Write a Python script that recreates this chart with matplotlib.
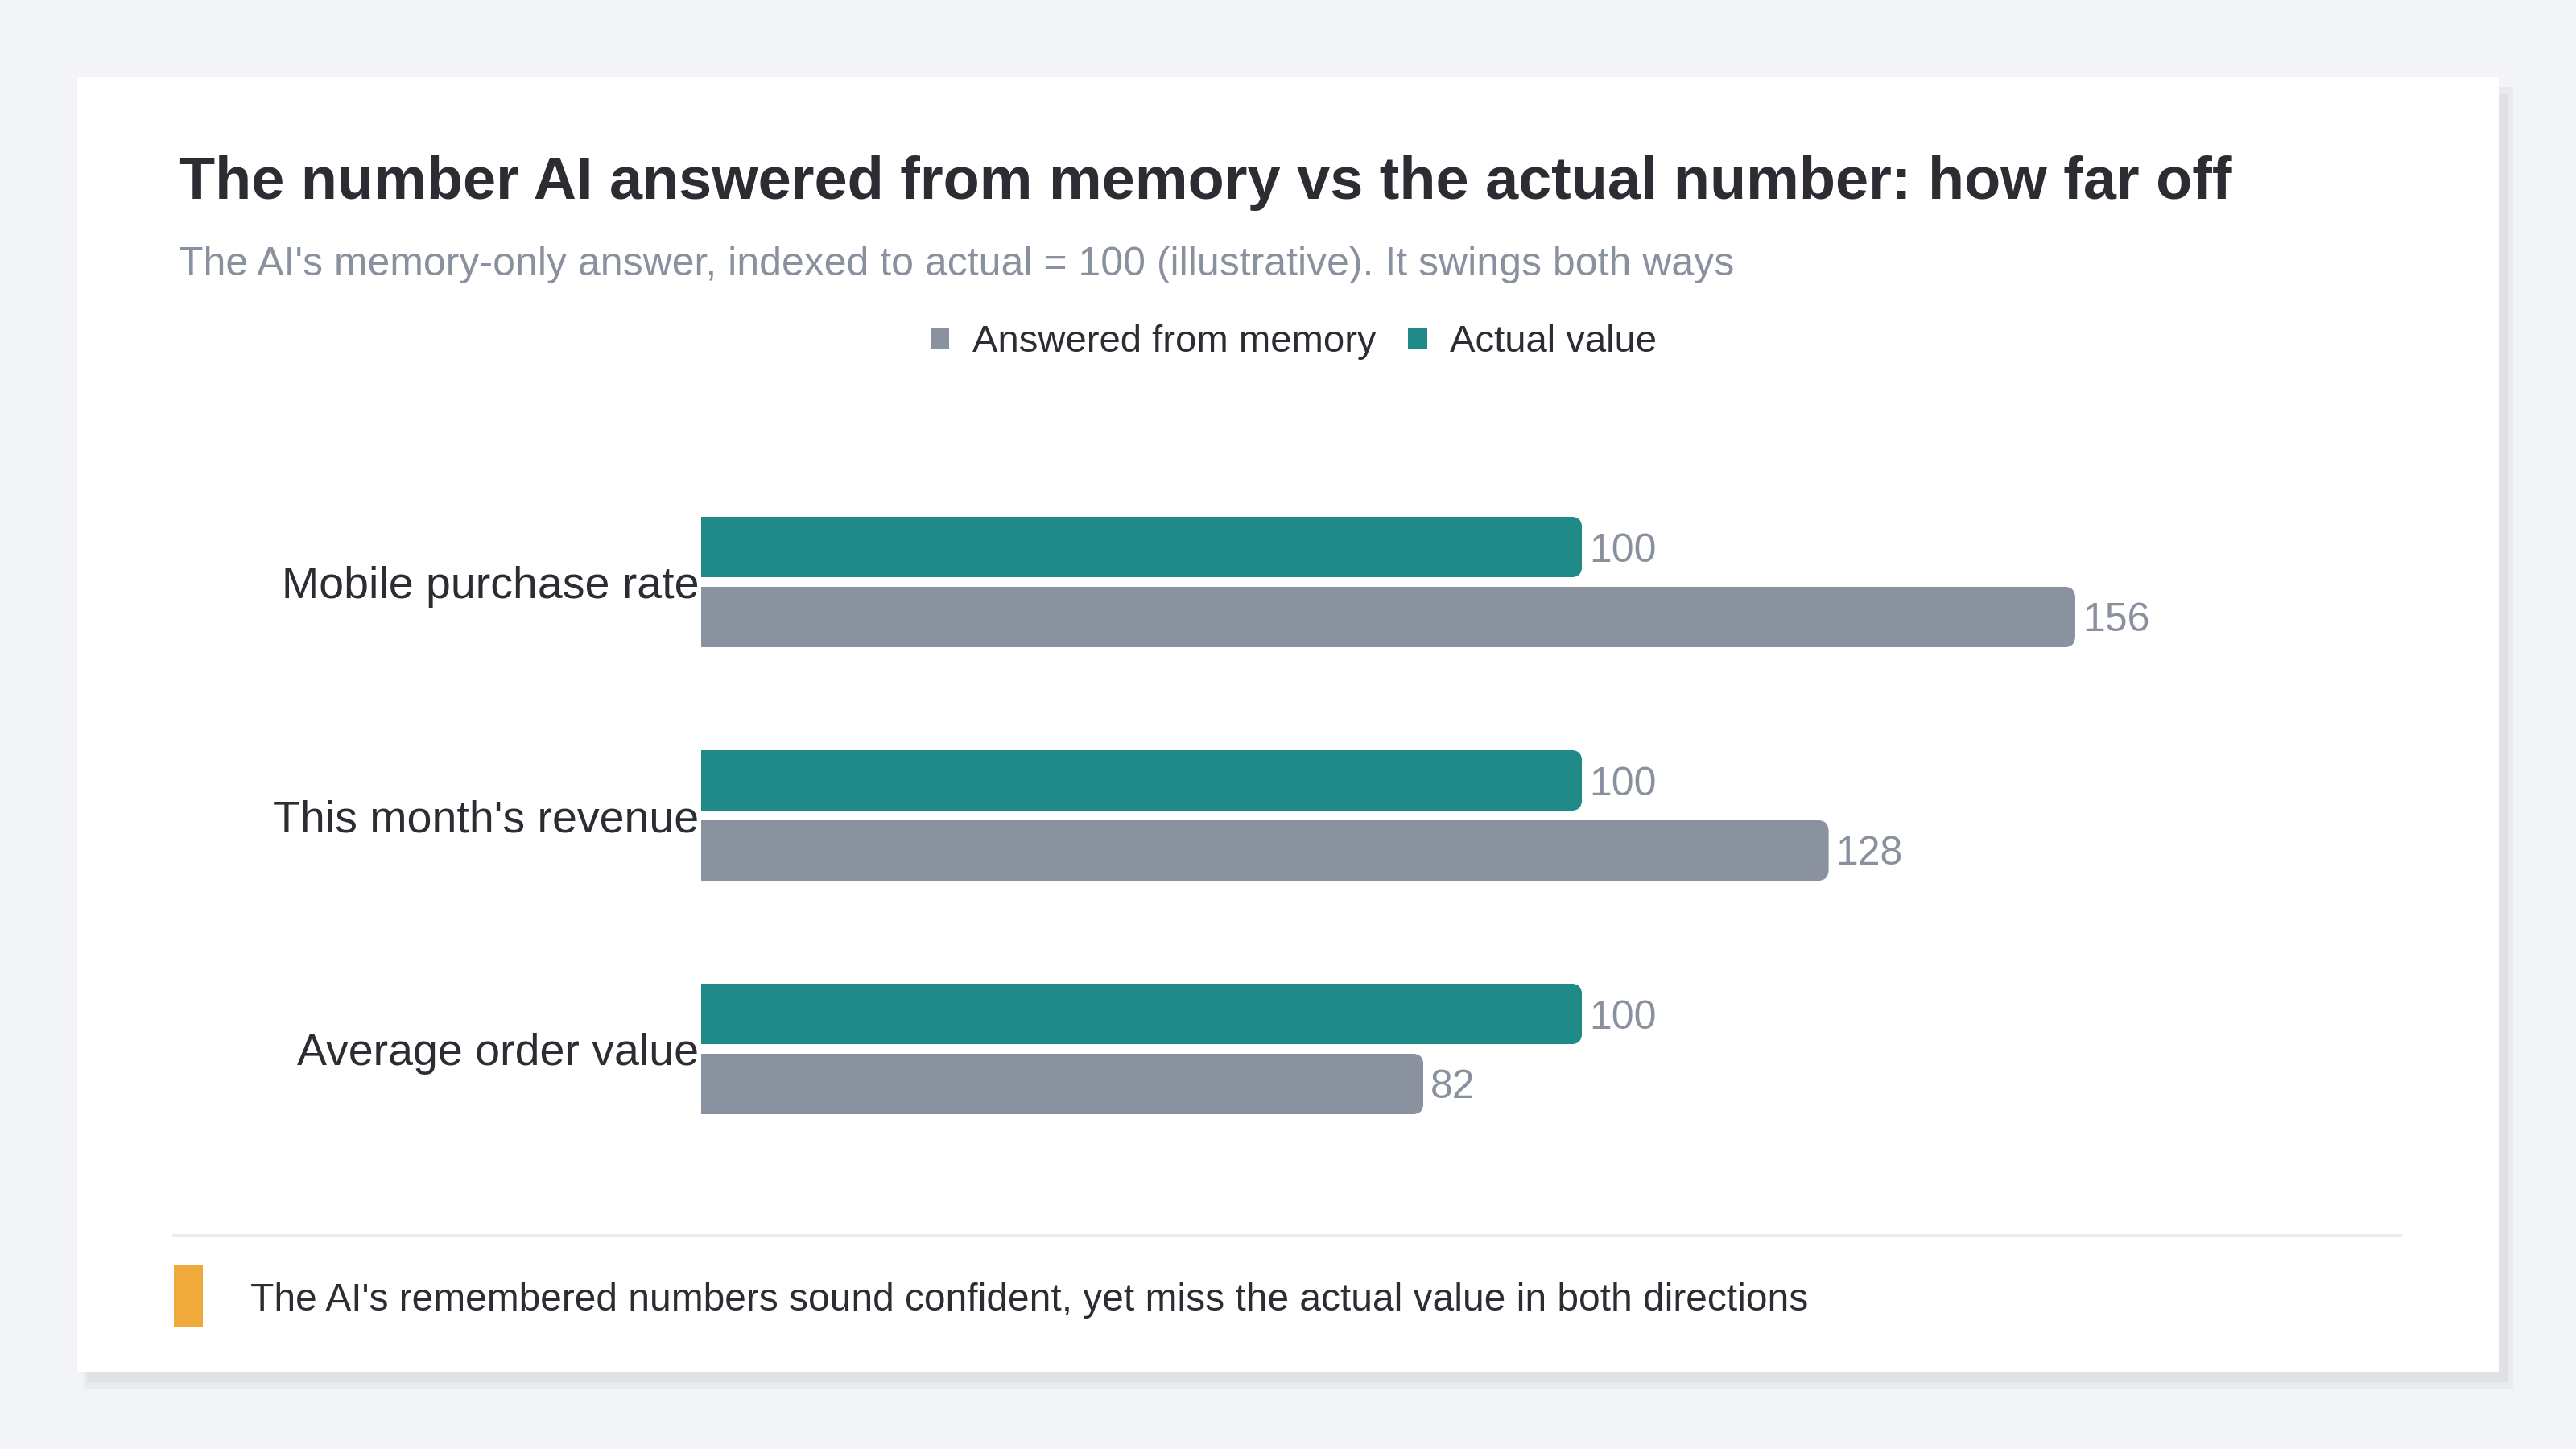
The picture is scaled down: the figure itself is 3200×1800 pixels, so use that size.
import matplotlib
matplotlib.use("Agg")
import matplotlib.pyplot as plt
from matplotlib.patches import Rectangle, FancyBboxPatch
from matplotlib.lines import Line2D
import numpy as np

# ------------------------------------------------ DATA ------------------------------------------------
categories = ["Mobile purchase rate", "This month's revenue", "Average order value"]
from_memory = [156, 128, 82]
actual_value = [100, 100, 100]
series_names = ["Answered from memory", "Actual value"]

title = "The number AI answered from memory vs the actual number: how far off"
subtitle = "The AI's memory-only answer, indexed to actual = 100 (illustrative). It swings both ways"
footer = "The AI's remembered numbers sound confident, yet miss the actual value in both directions"

# culori
TEAL = "#1f8a87"
GRAY = "#8a929f"
DARK = "#2b2d33"
MUTED = "#8a919e"
ORANGE = "#f0a93b"

# dimensiunea imaginii in pixeli
W, H = 3200, 1800
DPI = 200


def fx(x):
    # pixel -> fractie din figura (orizontal)
    return x / W


def fy(y):
    # pixel (masurat de sus) -> fractie din figura (vertical)
    return 1 - y / H


def rect_px(x0, y0, x1, y1, color, z):
    return Rectangle((fx(x0), fy(y1)), fx(x1) - fx(x0), fy(y0) - fy(y1),
                     transform=fig.transFigure, facecolor=color, edgecolor="none", zorder=z)


plt.rcParams['font.family'] = ['Liberation Sans', 'DejaVu Sans']

fig = plt.figure(figsize=(W / DPI, H / DPI), dpi=DPI, facecolor="#f3f4f8")

# umbra si cardul alb
fig.add_artist(rect_px(104, 108, 3122, 1725, "#eaebf0", -5))
fig.add_artist(rect_px(108, 117, 3116, 1717, "#dfe1e7", -4))
fig.add_artist(rect_px(96, 96, 3104, 1704, "white", -3))

# zona graficului
x_max = 190
ax_left, ax_right, ax_top, ax_bottom = 871, 2950, 578, 1448
ax = fig.add_axes([fx(ax_left), fy(ax_bottom), fx(ax_right) - fx(ax_left), fy(ax_top) - fy(ax_bottom)])
ax.set_facecolor("none")
ax.set_xlim(0, x_max)
ax.set_ylim(len(categories) - 0.5, -0.5)

y = np.arange(len(categories))
h = 0.26
off = 0.15
bars_mem = ax.barh(y + off, from_memory, height=h, color=GRAY, label=series_names[0])
bars_act = ax.barh(y - off, actual_value, height=h, color=TEAL, label=series_names[1])

# capat rotunjit in dreapta (clip cu un FancyBboxPatch)
r_px = 14
px_per_x = (ax_right - ax_left) / x_max
px_per_y = (ax_bottom - ax_top) / len(categories)
r_x = r_px / px_per_x
aspect = (r_px / px_per_y) / r_x
for bars in (bars_mem, bars_act):
    for b in bars:
        x0, y0 = b.get_x(), b.get_y()
        bw, bh = b.get_width(), b.get_height()
        clip = FancyBboxPatch((x0 - 3 * r_x, y0), bw + 3 * r_x, bh,
                              boxstyle=f"round,pad=0,rounding_size={r_x}",
                              mutation_aspect=aspect, transform=ax.transData)
        b.set_clip_path(clip)

# etichete cu valori
for bars in (bars_mem, bars_act):
    etichete = ax.bar_label(bars, padding=3.2, fontsize=18, color=MUTED)
    for t in etichete:
        t.set_va("center_baseline")

ax.set_yticks(y, categories)
ax.tick_params(axis="y", length=0, pad=1.0, labelsize=20, labelcolor=DARK)
ax.set_xticks([])
for s in ax.spines.values():
    s.set_visible(False)

# legenda
fig.legend(handles=[bars_mem, bars_act], labels=series_names, ncol=2, frameon=False,
           loc="center", bbox_to_anchor=(fx(1607), fy(425)), bbox_transform=fig.transFigure,
           fontsize=17, labelcolor=DARK, handlelength=0.5, handleheight=0.5,
           handletextpad=0.6, columnspacing=0.85, borderpad=0)

# titlu si subtitlu
fig.text(fx(222), fy(247), title, fontsize=26.6, fontweight="bold", color=DARK, va="baseline")
fig.text(fx(222), fy(342), subtitle, fontsize=18, color=MUTED, va="baseline")

# linia de separare si nota de subsol
fig.add_artist(Line2D([fx(216), fx(2982)], [fy(1535), fy(1535)], transform=fig.transFigure,
                      color="#e9ebef", linewidth=1.4))
fig.add_artist(rect_px(216, 1572, 252, 1648, ORANGE, 2))
fig.text(fx(311), fy(1628), footer, fontsize=17.25, color=DARK, va="baseline")

fig.savefig("out.png", dpi=DPI, facecolor=fig.get_facecolor())
